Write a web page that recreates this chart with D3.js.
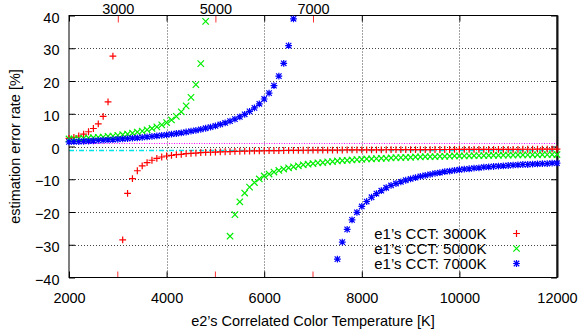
<!DOCTYPE html>
<html>
<head>
<meta charset="utf-8">
<script src="https://cdn.jsdelivr.net/npm/d3@7"></script>
<style>
  body { margin: 0; background: #fff; }
  svg text { font-family: "Liberation Sans", Arial, sans-serif; font-size: 14.5px; fill: #000; }
</style>
</head>
<body>
<div id="chart"></div>
<script>
// e2's CCT samples [K]
const e2K = [2000, 2100, 2200, 2300, 2400, 2500, 2600, 2700, 2800, 2900,
  3000, 3100, 3200, 3300, 3400, 3500, 3600, 3700, 3800, 3900,
  4000, 4100, 4200, 4300, 4400, 4500, 4600, 4700, 4800, 4900,
  5000, 5100, 5200, 5300, 5400, 5500, 5600, 5700, 5800, 5900,
  6000, 6100, 6200, 6300, 6400, 6500, 6600, 6700, 6800, 6900,
  7000, 7100, 7200, 7300, 7400, 7500, 7600, 7700, 7800, 7900,
  8000, 8100, 8200, 8300, 8400, 8500, 8600, 8700, 8800, 8900,
  9000, 9100, 9200, 9300, 9400, 9500, 9600, 9700, 9800, 9900,
  10000, 10100, 10200, 10300, 10400, 10500, 10600, 10700, 10800, 10900,
  11000, 11100, 11200, 11300, 11400, 11500, 11600, 11700, 11800, 11900,
  12000];

// estimation error rate [%], null = not drawn (off scale)
const err3000 = [2.5, 2.8, 3.2, 3.8, 4.5, 5.5, 6.9, 9.2, 13.6, 27.6,
  null, -28.5, -14.3, -9.8, -7.4, -5.9, -4.9, -4.2, -3.6, -3.2,
  -2.9, -2.7, -2.5, -2.4, -2.2, -2.1, -2.0, -1.9, -1.8, -1.75,
  -1.7, -1.65, -1.6, -1.55, -1.5, -1.45, -1.4, -1.38, -1.35, -1.32,
  -1.3, -1.28, -1.26, -1.24, -1.22, -1.2, -1.18, -1.16, -1.15, -1.14,
  -1.13, -1.12, -1.11, -1.1, -1.09, -1.08, -1.07, -1.06, -1.05, -1.04,
  -1.03, -1.02, -1.01, -1.0, -1.0, -0.99, -0.98, -0.97, -0.97, -0.96,
  -0.95, -0.95, -0.94, -0.93, -0.93, -0.92, -0.92, -0.91, -0.91, -0.9,
  -0.9, -0.89, -0.89, -0.88, -0.88, -0.87, -0.87, -0.87, -0.86, -0.86,
  -0.85, -0.85, -0.85, -0.84, -0.84, -0.84, -0.83, -0.83, -0.83, -0.82,
  -0.82];

const err5000 = [2.3, 2.3, 2.4, 2.5, 2.6, 2.7, 2.8, 2.9, 3.1, 3.2,
  3.4, 3.6, 3.8, 4.1, 4.4, 4.7, 5.1, 5.5, 6.0, 6.6,
  7.3, 8.1, 9.2, 10.6, 12.4, 15.0, 18.9, 25.3, 38.2, null,
  null, null, null, -27.4, -20.8, -16.9, -14.2, -12.4, -11.0, -9.9,
  -9.0, -8.4, -7.8, -7.3, -6.9, -6.5, -6.2, -5.9, -5.6, -5.4,
  -5.2, -5.0, -4.9, -4.7, -4.6, -4.4, -4.3, -4.2, -4.1, -4.0,
  -3.9, -3.8, -3.8, -3.7, -3.6, -3.6, -3.5, -3.4, -3.4, -3.3,
  -3.3, -3.2, -3.2, -3.1, -3.1, -3.1, -3.0, -3.0, -2.95, -2.9,
  -2.9, -2.86, -2.83, -2.8, -2.78, -2.75, -2.72, -2.7, -2.68, -2.65,
  -2.63, -2.61, -2.59, -2.57, -2.55, -2.53, -2.52, -2.5, -2.48, -2.46,
  -2.45];

const err7000 = [1.4, 1.46, 1.52, 1.6, 1.67, 1.75, 1.84, 1.92, 2.01, 2.11,
  2.21, 2.31, 2.42, 2.54, 2.66, 2.79, 2.93, 3.08, 3.23, 3.4,
  3.58, 3.77, 3.97, 4.18, 4.42, 4.67, 4.94, 5.24, 5.57, 5.92,
  6.31, 6.74, 7.22, 7.76, 8.36, 9.05, 9.83, 10.73, 11.78, 13.03,
  14.5, 16.3, 18.6, 21.5, 25.4, 30.8, 39.0, null, null, null,
  null, null, null, null, null, -34.4, -29.2, -25.3, -22.4, -20.1,
  -18.3, -16.8, -15.5, -14.4, -13.5, -12.6, -11.9, -11.3, -10.8, -10.3,
  -9.9, -9.5, -9.1, -8.8, -8.5, -8.2, -8.0, -7.7, -7.5, -7.3,
  -7.1, -6.9, -6.8, -6.6, -6.5, -6.3, -6.2, -6.1, -6.0, -5.9,
  -5.8, -5.7, -5.6, -5.5, -5.5, -5.4, -5.3, -5.2, -5.2, -5.1,
  -5.1];

const seriesNames = ["e1\u2019s CCT: 3000K", "e1\u2019s CCT: 5000K", "e1\u2019s CCT: 7000K"];
const e1Ticks = [3000, 5000, 7000];
const xTicks = [2000, 4000, 6000, 8000, 10000, 12000];
const yTicks = [-40, -30, -20, -10, 0, 10, 20, 30, 40];
const refLines = [1, -1];  // magenta / cyan reference levels

const width = 580, height = 329;
const margin = {top: 15.5, right: 23, bottom: 51.5, left: 69};

const svg = d3.select('#chart').append('svg')
  .attr('width', width)
  .attr('height', height);

const x = d3.scaleLinear().domain([2000, 12000]).range([margin.left, width - margin.right]);
const y = d3.scaleLinear().domain([-40, 40]).range([height - margin.bottom, margin.top]);
const x0 = x.range()[0], x1 = x.range()[1], yb = y.range()[0], yt = y.range()[1];

// grid
svg.append('g').selectAll('line')
  .data(xTicks.slice(1, -1))
  .enter().append('line')
    .attr('x1', d => Math.round(x(d)) + 0.5).attr('x2', d => Math.round(x(d)) + 0.5)
    .attr('y1', yt).attr('y2', yb)
    .attr('stroke', '#444').attr('stroke-dasharray', '1,2');
svg.append('g').selectAll('line')
  .data(yTicks.slice(1, -1))
  .enter().append('line')
    .attr('x1', x0).attr('x2', x1)
    .attr('y1', d => Math.round(y(d)) + 0.5).attr('y2', d => Math.round(y(d)) + 0.5)
    .attr('stroke', '#444').attr('stroke-dasharray', '1,2');

// reference lines
svg.append('line')
  .attr('x1', x0).attr('x2', x1)
  .attr('y1', Math.round(y(refLines[0])) + 0.5).attr('y2', Math.round(y(refLines[0])) + 0.5)
  .attr('stroke', '#ff00ff').attr('stroke-dasharray', '1,1.5');
svg.append('line')
  .attr('x1', x0).attr('x2', x1)
  .attr('y1', Math.round(y(refLines[1])) + 0.5).attr('y2', Math.round(y(refLines[1])) + 0.5)
  .attr('stroke', '#00e5e5').attr('stroke-width', 1.3).attr('stroke-dasharray', '5,2,1,2');

// axes
const bottomAxis = svg.append('g')
  .attr('transform', 'translate(0,' + yb + ')')
  .call(d3.axisBottom(x).tickValues(xTicks).tickSize(-6).tickPadding(15).tickFormat(d3.format('d')));
const topAxis = svg.append('g')
  .attr('transform', 'translate(0,' + yt + ')')
  .call(d3.axisTop(x).tickValues(xTicks).tickSize(-6).tickFormat(''));
const leftAxis = svg.append('g')
  .attr('transform', 'translate(' + x0 + ',0)')
  .call(d3.axisLeft(y).tickValues(yTicks).tickSize(-6).tickPadding(9.5));
const rightAxis = svg.append('g')
  .attr('transform', 'translate(' + x1 + ',0)')
  .call(d3.axisRight(y).tickValues(yTicks).tickSize(-6).tickFormat(''));
[bottomAxis, topAxis, leftAxis, rightAxis].forEach(a => {
  a.select('.domain').remove();
  a.attr('font-size', null).attr('font-family', null);
});
leftAxis.selectAll('text').attr('dy', '0.45em');

// e1 ticks (second x axis) on top and bottom
const topE1 = svg.append('g')
  .attr('transform', 'translate(0,' + yt + ')')
  .call(d3.axisTop(x).tickValues(e1Ticks).tickSize(-7).tickPadding(2).tickFormat(d3.format('d')));
topE1.select('.domain').remove();
topE1.attr('font-size', null).attr('font-family', null);
topE1.selectAll('line').attr('stroke', '#ff3030');
svg.append('g').selectAll('line')
  .data(e1Ticks)
  .enter().append('line')
    .attr('x1', d => x(d)).attr('x2', d => x(d))
    .attr('y1', yb).attr('y2', yb - 6)
    .attr('stroke', '#ff3030');

// frame
svg.append('rect')
  .attr('x', x0).attr('y', yt)
  .attr('width', x1 - x0).attr('height', yb - yt)
  .attr('fill', 'none').attr('stroke', '#000');
svg.append('line')
  .attr('x1', x1 + 0.5).attr('x2', x1 + 0.5).attr('y1', yt).attr('y2', yb)
  .attr('stroke', '#111').attr('stroke-width', 2);

// point markers
function marker(type, r) {
  const plus = 'M' + (-r) + ',0H' + r + 'M0,' + (-r) + 'V' + r;
  const times = 'M' + (-r) + ',' + (-r) + 'L' + r + ',' + r + 'M' + (-r) + ',' + r + 'L' + r + ',' + (-r);
  if (type === 'plus') return plus;
  if (type === 'times') return times;
  const s = r * 0.8;
  return plus + 'M' + (-s) + ',' + (-s) + 'L' + s + ',' + s + 'M' + (-s) + ',' + s + 'L' + s + ',' + (-s);
}

const series = [
  {name: seriesNames[0], values: err3000, color: '#ff0000', type: 'plus', r: 3.4},
  {name: seriesNames[1], values: err5000, color: '#00ee00', type: 'times', r: 3.2},
  {name: seriesNames[2], values: err7000, color: '#0000ff', type: 'star', r: 3.4}
];

series.forEach(s => {
  const pts = e2K.map((k, i) => ({k: k, v: s.values[i]})).filter(d => d.v !== null);
  svg.append('g').selectAll('path')
    .data(pts)
    .enter().append('path')
      .attr('transform', d => 'translate(' + x(d.k) + ',' + y(d.v) + ')')
      .attr('d', marker(s.type, s.r))
      .attr('fill', 'none')
      .attr('stroke', s.color)
      .attr('stroke-width', 1.2);
});

// legend
const legend = svg.append('g');
series.forEach((s, i) => {
  const ly = 233.5 + i * 15;
  legend.append('text')
    .attr('x', 486.5).attr('y', ly + 5.2)
    .attr('text-anchor', 'end')
    .style('font-size', '15px')
    .text(s.name);
  legend.append('path')
    .attr('transform', 'translate(516.5,' + ly + ')')
    .attr('d', marker(s.type, s.r))
    .attr('fill', 'none')
    .attr('stroke', s.color)
    .attr('stroke-width', 1.2);
});

// axis titles
svg.append('text')
  .attr('x', (x0 + x1) / 2).attr('y', 325.5)
  .attr('text-anchor', 'middle')
  .text('e2\u2019s Correlated Color Temperature [K]');
svg.append('text')
  .attr('transform', 'translate(19.5,' + ((yt + yb) / 2) + ') rotate(-90)')
  .attr('text-anchor', 'middle')
  .text('estimation error rate [%]');
</script>
</body>
</html>
